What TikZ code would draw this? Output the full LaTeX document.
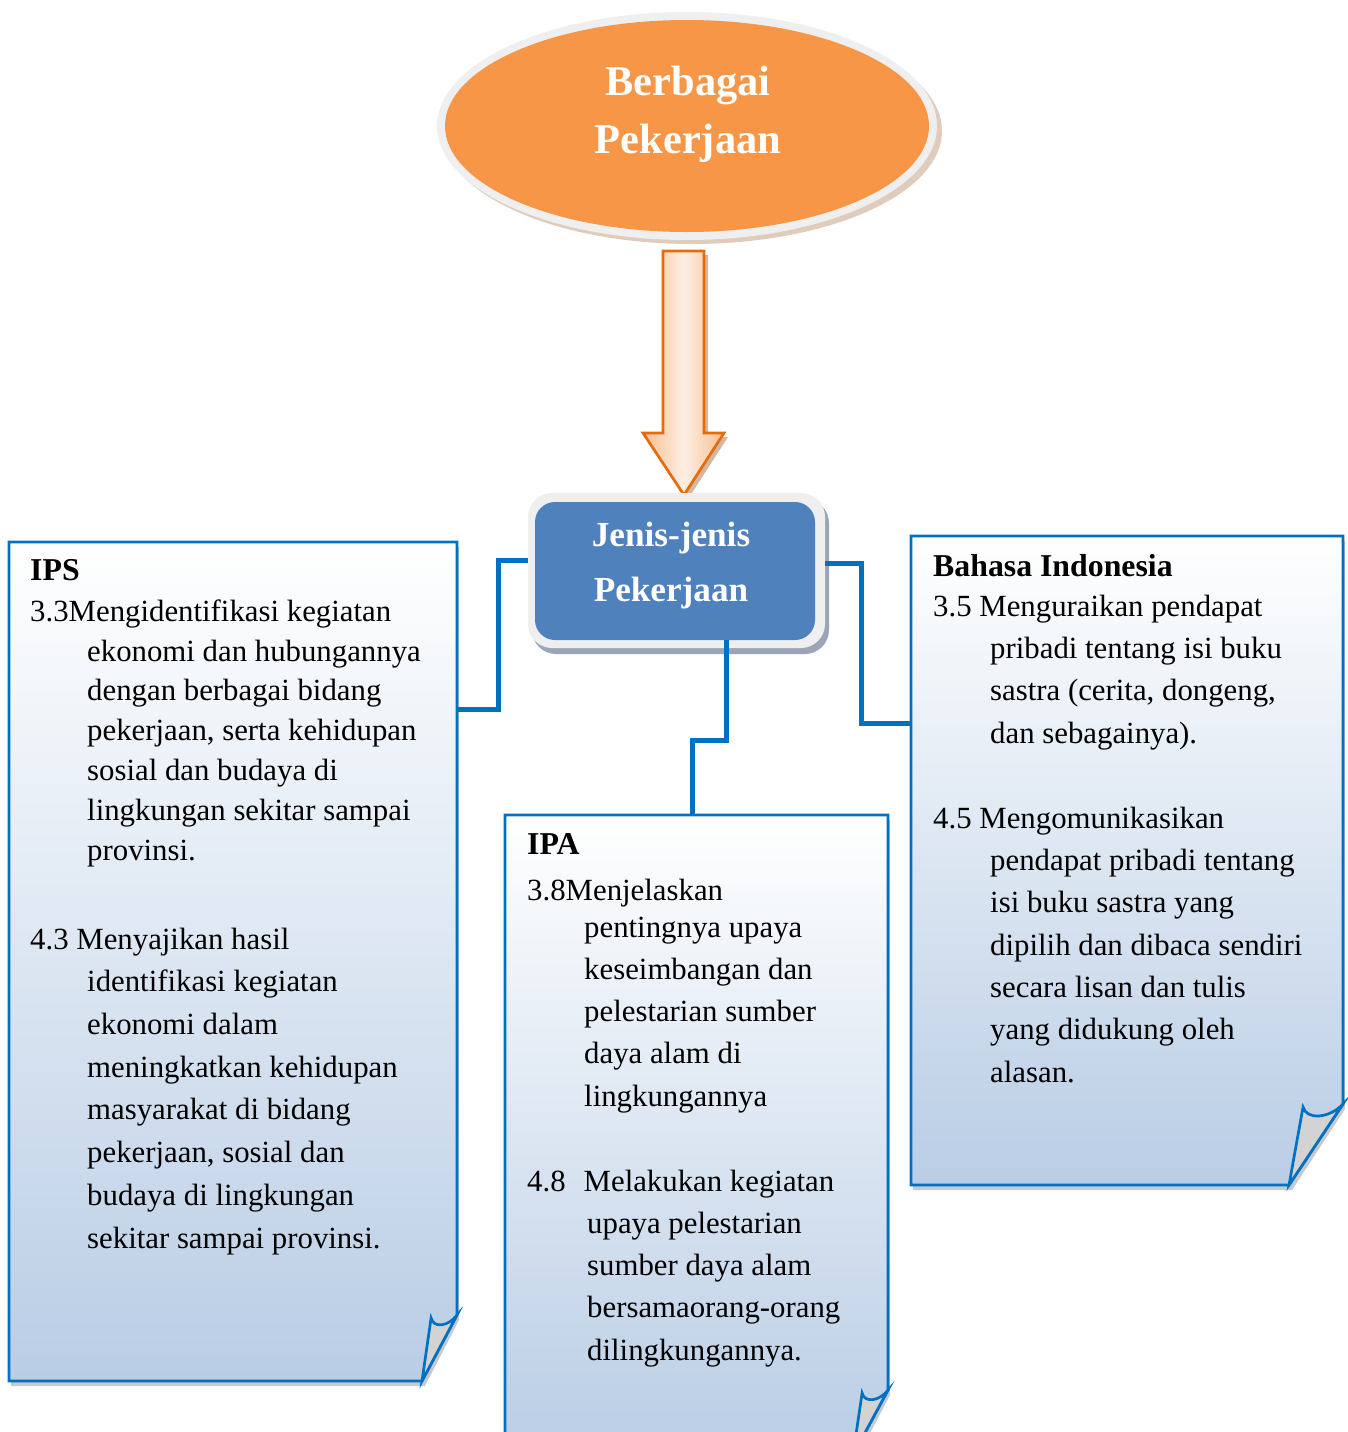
\documentclass[tikz,border=0pt]{standalone}
\usepackage{fontspec}
\setmainfont{Liberation Serif}
\usetikzlibrary{shapes.geometric}
\definecolor{cblue}{HTML}{0070C0}
\definecolor{orangeF}{HTML}{F79646}
\definecolor{boxblue}{HTML}{4F81BD}
\definecolor{gradblue}{HTML}{B9CDE5}
\definecolor{arrline}{HTML}{E46C0A}
\definecolor{peach}{HTML}{F9BF8F}
\definecolor{peachlight}{HTML}{FDEEE2}
\definecolor{rimgray}{HTML}{EFEFEF}
\definecolor{flapgray}{HTML}{D3D3D3}
\definecolor{shadegray}{HTML}{C6C9CE}
\definecolor{ellshadow}{HTML}{E0CCBC}
\definecolor{boxshadow}{HTML}{9AA6B8}
\definecolor{arrshadow}{HTML}{D2B8A3}
\newcommand{\hin}{\hspace*{57pt}}
\newcommand{\paperbox}[6]{% L T R B dx dy
 \fill[shadegray] (#1+2,#2+5) -- (#3+2,#2+5) -- (#3+2,#4-#6+5) -- (#3-#5+3,#4+5) -- (#1+2,#4+5) -- cycle;
 \path[top color=white, bottom color=gradblue] (#1,#2) -- (#3,#2) -- (#3,#4-#6) -- (#3-#5,#4) -- (#1,#4) -- cycle;
 \draw[boxline] (#1,#2) -- (#3,#2) -- (#3,#4-#6) -- (#3-#5,#4) -- (#1,#4) -- cycle;
 \filldraw[boxline, fill=flapgray] (#3-0.74*#5,#4-#6+3) .. controls (#3-0.68*#5,#4-0.8*#6) and (#3-0.25*#5,#4-0.82*#6) .. (#3,#4-#6) -- (#3-#5,#4) -- cycle;
}
\tikzset{
 conn/.style={draw=cblue, line width=5pt},
 boxline/.style={draw=cblue, line width=2.7pt, line join=miter},
 ghost/.style={draw=none, inner sep=0pt},
 titleA/.style={font=\bfseries\fontsize{42.4}{58}\selectfont, text=white, inner sep=0pt, align=center},
 boxtitle/.style={font=\bfseries\fontsize{35.2}{55}\selectfont, text=white, inner sep=0pt, align=center},
 head/.style={font=\bfseries\fontsize{31.8}{40}\selectfont, anchor=base west, inner sep=0pt},
 body/.style={font=\fontsize{30.8}{42.3}\selectfont, anchor=base west, inner sep=0pt, align=left},
}
\begin{document}
\begin{tikzpicture}[x=1pt,y=-1pt]
\useasboundingbox (0,0) rectangle (1347,1432);
\fill[white] (0,0) rectangle (1347,1432);

% top ellipse
\fill[ellshadow] (692,131) ellipse [x radius=250, y radius=113];
\fill[rimgray] (687,126) ellipse [x radius=250, y radius=114];
\node[ellipse, fill=orangeF, minimum width=484pt, minimum height=212pt, inner sep=0pt] (topic) at (687,126) {};
\node[titleA] (topicT) at (688,114) {Berbagai\\Pekerjaan};

% block arrow
\fill[arrshadow] (667,255) -- (708,255) -- (708,437) -- (728,437) -- (688,499) -- (647,437) -- (667,437) -- cycle;
\path[left color=peach, right color=peach, middle color=peachlight] (663,251) -- (704,251) -- (704,433) -- (724,433) -- (684,495) -- (643,433) -- (663,433) -- cycle;
\draw[arrline, line width=2.7pt, line join=miter] (663,251) -- (704,251) -- (704,433) -- (724,433) -- (684,495) -- (643,433) -- (663,433) -- cycle;

% centre box
\fill[boxshadow, rounded corners=24pt] (532,499) rectangle (829,654);
\node[fill=rimgray, rounded corners=24pt, minimum width=297pt, minimum height=155pt, inner sep=0pt] (cbox) at (676.5,570.5) {};
\node[fill=boxblue, rounded corners=20pt, minimum width=280pt, minimum height=138pt, inner sep=0pt] (cin) at (675,571) {};
\node[boxtitle] (cinT) at (671,566) {Jenis-jenis\\Pekerjaan};

% paper boxes
\paperbox{9}{542}{457}{1381}{35}{66}
\paperbox{505}{815}{888}{1455}{35}{65}
\paperbox{911}{536}{1343}{1185}{54}{81}
\node[ghost, minimum width=448pt, minimum height=839pt] (ips) at (233,961.5) {};
\node[ghost, minimum width=383pt, minimum height=640pt] (ipa) at (696.5,1135) {};
\node[ghost, minimum width=432pt, minimum height=649pt] (bi) at (1127,860.5) {};

% connectors
\coordinate (lk1) at (498,560);
\coordinate (lk2) at (498,709);
\draw[conn] (cbox.west |- lk1) -- (lk1) -- (lk2) -- (ips.east |- lk2);
\coordinate (mk1) at (726,740);
\coordinate (mk2) at (692,740);
\draw[conn] (cin.south -| mk1) -- (mk1) -- (mk2) -- (ipa.north -| mk2);
\coordinate (rk1) at (861,563);
\coordinate (rk2) at (861,723);
\draw[conn] (cbox.east |- rk1) -- (rk1) -- (rk2) -- (bi.west |- rk2);

% IPS text (anchor = baseline of last line)
\node[head] (ipsH) at (30,580) {IPS};
\node[body, font=\fontsize{30.8}{39.8}\selectfont] (ipsA) at (30,860) {3.3Mengidentifikasi kegiatan\\
\hin ekonomi dan hubungannya\\
\hin dengan berbagai bidang\\
\hin pekerjaan, serta kehidupan\\
\hin sosial dan budaya di\\
\hin lingkungan sekitar sampai\\
\hin provinsi.};
\node[body, font=\fontsize{30.8}{42.7}\selectfont] (ipsB) at (30,1248) {4.3 Menyajikan hasil\\
\hin identifikasi kegiatan\\
\hin ekonomi dalam\\
\hin meningkatkan kehidupan\\
\hin masyarakat di bidang\\
\hin pekerjaan, sosial dan\\
\hin budaya di lingkungan\\
\hin sekitar sampai provinsi.};

% IPA text
\node[head] (ipaH) at (527,854) {IPA};
\node[body, font=\fontsize{30.8}{42.2}\selectfont] (ipaA) at (527,1106) {3.8Menjelaskan\\[-5pt]
\hin pentingnya upaya\\
\hin keseimbangan dan\\
\hin pelestarian sumber\\
\hin daya alam di\\
\hin lingkungannya};
\node[body, font=\fontsize{30.8}{42.25}\selectfont] (ipaB) at (527,1360) {4.8\hspace{18pt}Melakukan kegiatan\\
\hspace*{60pt}upaya pelestarian\\
\hspace*{60pt}sumber daya alam\\
\hspace*{60pt}bersamaorang-orang\\
\hspace*{60pt}dilingkungannya.};

% Bahasa Indonesia text
\node[head] (biH) at (933,576) {Bahasa Indonesia};
\node[body] (biA) at (933,743) {3.5 Menguraikan pendapat\\
\hin pribadi tentang isi buku\\
\hin sastra (cerita, dongeng,\\
\hin dan sebagainya).};
\node[body] (biB) at (933,1082) {4.5 Mengomunikasikan\\
\hin pendapat pribadi tentang\\
\hin isi buku sastra yang\\
\hin dipilih dan dibaca sendiri\\
\hin secara lisan dan tulis\\
\hin yang didukung oleh\\
\hin alasan.};
\end{tikzpicture}
\end{document}
